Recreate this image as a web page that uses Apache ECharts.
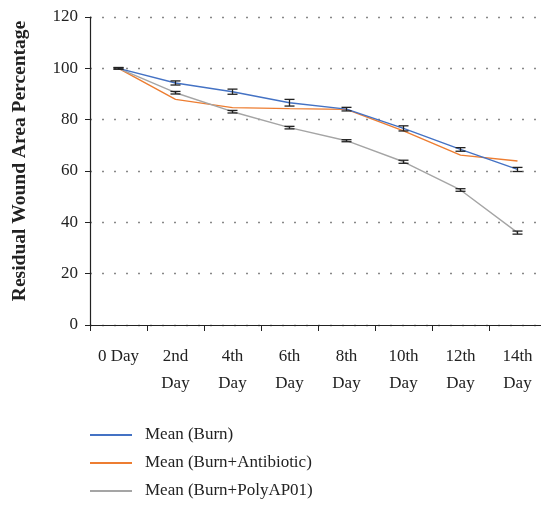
<!DOCTYPE html>
<html><head><meta charset="utf-8">
<script src="https://cdn.jsdelivr.net/npm/echarts@6/dist/echarts.min.js"></script>
<style>html,body{margin:0;padding:0;background:#fff}#c{width:541px;height:508px}</style>
</head><body><div id="c"></div>
<script>
const categories = ["0 Day", "2nd\nDay", "4th\nDay", "6th\nDay", "8th\nDay", "10th\nDay", "12th\nDay", "14th\nDay"];
const burn = [100, 94.3, 90.9, 86.6, 84.1, 76.6, 68.4, 60.6];
const burnErr = [0.3, 0.8, 1.0, 1.3, 0.7, 1.0, 0.7, 0.8];
const antibiotic = [100, 87.9, 84.7, 84.3, 84.0, 75.6, 66.2, 63.9];
const poly = [100, 90.5, 83.1, 76.9, 71.8, 63.6, 52.6, 36.0];
const polyErr = [0.3, 0.5, 0.5, 0.5, 0.4, 0.6, 0.5, 0.6];
const yTicks = [0, 20, 40, 60, 80, 100, 120];

const font = "'Liberation Serif', 'DejaVu Serif', serif";
function errData(vals, errs) { return vals.map((v, i) => [i, v - errs[i], v + errs[i]]); }
function errSeries(vals, errs, z) {
  return {
    type: 'custom', silent: true, z: z,
    data: errData(vals, errs),
    renderItem: function (params, api) {
      const lo = api.coord([api.value(0), api.value(1)]);
      const hi = api.coord([api.value(0), api.value(2)]);
      const w = 5;
      const st = { stroke: '#222', lineWidth: 1.3 };
      return { type: 'group', children: [
        { type: 'line', shape: { x1: lo[0], y1: lo[1], x2: hi[0], y2: hi[1] }, style: st },
        { type: 'line', shape: { x1: lo[0] - w, y1: lo[1], x2: lo[0] + w, y2: lo[1] }, style: st },
        { type: 'line', shape: { x1: hi[0] - w, y1: hi[1], x2: hi[0] + w, y2: hi[1] }, style: st }
      ]};
    }
  };
}
const chart = echarts.init(document.getElementById('c'), null, { renderer: 'canvas' });
chart.setOption({
  animation: false,
  backgroundColor: '#fff',
  textStyle: { fontFamily: font },
  grid: { left: 90, top: 17, width: 456, height: 308, containLabel: false, outerBoundsMode: 'none' },
  legend: {
    orient: 'vertical', left: 90, top: 425, padding: 0, itemWidth: 42, itemHeight: 2, itemGap: 8,
    icon: 'rect', height: 83,
    data: ['Mean (Burn)', 'Mean (Burn+Antibiotic)', 'Mean (Burn+PolyAP01)'],
    textStyle: { fontFamily: font, fontSize: 17, lineHeight: 20, color: '#222', padding: [0, 0, 0, 8] }
  },
  xAxis: {
    type: 'category', data: categories, boundaryGap: true,
    axisLine: { lineStyle: { color: '#222', width: 1.2 } },
    axisTick: { show: true, length: 6, lineStyle: { color: '#222' } },
    axisLabel: { color: '#222', fontFamily: font, fontSize: 17, lineHeight: 27, margin: 18, interval: 0 }
  },
  yAxis: {
    type: 'value', min: 0, max: 120, interval: 20,
    name: 'Residual Wound Area Percentage', nameLocation: 'middle', nameGap: 60, nameRotate: 90,
    nameTextStyle: { fontFamily: font, fontSize: 19.5, fontWeight: 'bold', color: '#222', padding: [0, 0, 0, 20] },
    axisLine: { show: true, lineStyle: { color: '#222', width: 1.2 } },
    axisTick: { show: true, length: 5, lineStyle: { color: '#222' } },
    axisLabel: { color: '#222', fontFamily: font, fontSize: 17, margin: 12,
      formatter: v => yTicks.includes(v) ? String(v) : '' },
    splitLine: { show: true, lineStyle: { color: '#888', type: [2, 10], width: 1.3 } }
  },
  series: [
    { name: 'Mean (Burn)', type: 'line', data: burn, symbol: 'none', lineStyle: { color: '#4472C4', width: 1.4 }, itemStyle: { color: '#4472C4' }, z: 3 },
    { name: 'Mean (Burn+Antibiotic)', type: 'line', data: antibiotic, symbol: 'none', lineStyle: { color: '#ED7D31', width: 1.4 }, itemStyle: { color: '#ED7D31' }, z: 2 },
    { name: 'Mean (Burn+PolyAP01)', type: 'line', data: poly, symbol: 'none', lineStyle: { color: '#A5A5A5', width: 1.4 }, itemStyle: { color: '#A5A5A5' }, z: 2 },
    errSeries(burn, burnErr, 5),
    errSeries(poly, polyErr, 5)
  ]
});
</script></body></html>
